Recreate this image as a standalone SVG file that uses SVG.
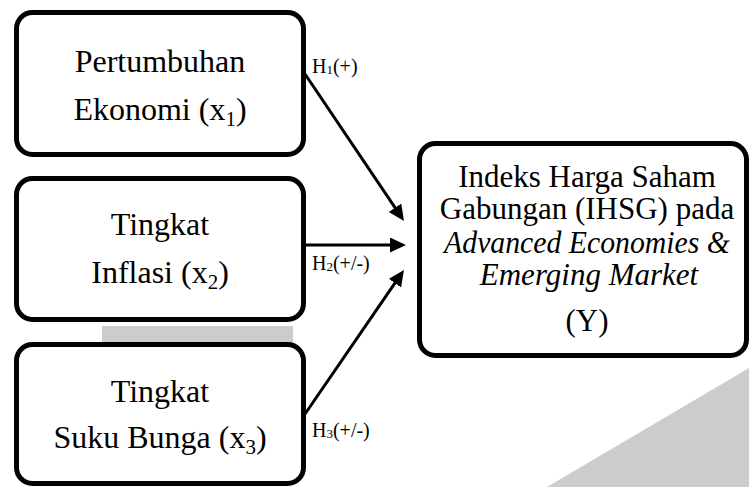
<svg xmlns="http://www.w3.org/2000/svg" width="749" height="487" viewBox="0 0 749 487">
  <style>
    .box { fill: #ffffff; stroke: #000000; stroke-width: 5; }
    .t { font-family: "Liberation Serif", "Times New Roman", serif; font-size: 32px; fill: #000000; text-anchor: middle; }
    .ty { font-size: 31px; }
    .it { font-family: "Liberation Serif", serif; font-style: italic; }
    .lbl { font-family: "Liberation Serif", "Times New Roman", serif; font-size: 20px; fill: #000000; }
    .conn { stroke: #000000; stroke-width: 3; fill: none; marker-end: url(#arrow); }
    .wm { fill: #cccccc; }
  </style>
  <defs>
    <marker id="arrow" markerUnits="userSpaceOnUse" markerWidth="18" markerHeight="16" refX="6" refY="7.5" orient="auto">
      <path d="M0,0 L16,7.5 L0,15 z" fill="#000000"/>
    </marker>
  </defs>
  <rect width="749" height="487" fill="#ffffff"/>
  <g id="watermark">
    <rect class="wm" x="102" y="326" width="191" height="18"/>
    <polygon class="wm" points="547,487 749,368 749,487"/>
  </g>
  <g id="connectors">
    <line class="conn" x1="305" y1="74" x2="398.4" y2="212.7"/>
    <line class="conn" x1="306" y1="245" x2="396" y2="245"/>
    <line class="conn" x1="305" y1="414" x2="398.3" y2="278.2"/>
    <text class="lbl" x="312" y="73">H<tspan font-size="13" dy="1">1</tspan><tspan dy="-1">(+)</tspan></text>
    <text class="lbl" x="312" y="270">H<tspan font-size="13" dy="1">2</tspan><tspan dy="-1">(+/-)</tspan></text>
    <text class="lbl" x="312" y="437">H<tspan font-size="13" dy="1">3</tspan><tspan dy="-1">(+/-)</tspan></text>
  </g>
  <g id="node-x1">
    <rect class="box" x="16.5" y="12.5" width="287" height="142" rx="16"/>
    <text class="t" x="160" y="72">Pertumbuhan</text>
    <text class="t" x="160" y="120">Ekonomi  (x<tspan font-size="21" dy="6">1</tspan><tspan dy="-6">)</tspan></text>
  </g>
  <g id="node-x2">
    <rect class="box" x="16.5" y="178.5" width="287" height="141" rx="16"/>
    <text class="t" x="160" y="235">Tingkat</text>
    <text class="t" x="160" y="283">Inflasi  (x<tspan font-size="21" dy="6">2</tspan><tspan dy="-6">)</tspan></text>
  </g>
  <g id="node-x3">
    <rect class="box" x="16.5" y="344.5" width="287" height="139" rx="16"/>
    <text class="t" x="160" y="402">Tingkat</text>
    <text class="t" x="160" y="448">Suku Bunga (x<tspan font-size="21" dy="6">3</tspan><tspan dy="-6">)</tspan></text>
  </g>
  <g id="node-y">
    <rect class="box" x="419.5" y="143.5" width="327" height="212" rx="16"/>
    <text class="t ty" x="587" y="187">Indeks  Harga Saham</text>
    <text class="t ty" x="587" y="219">Gabungan (IHSG) pada</text>
    <text class="t ty it" transform="translate(587 253) scale(0.96 1)" x="0" y="0">Advanced Economies &amp;</text>
    <text class="t ty it" x="589" y="285">Emerging Market</text>
    <text class="t ty" x="587" y="331">(Y)</text>
  </g>
</svg>
